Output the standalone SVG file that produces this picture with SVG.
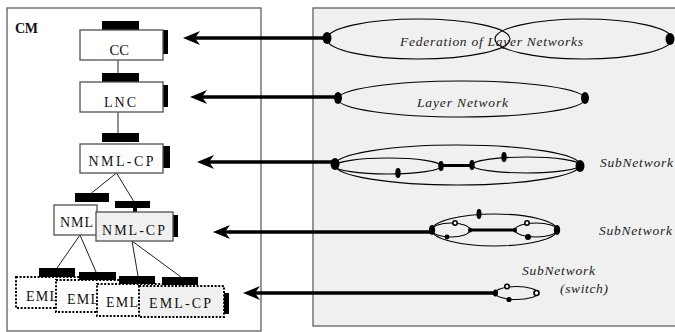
<svg xmlns="http://www.w3.org/2000/svg" width="675" height="332" viewBox="0 0 675 332">
  <style>
    .frame { stroke: #606060; stroke-width: 1.3; }
    .box { fill: #ffffff; stroke: #505050; stroke-width: 1.3; }
    .boxg { fill: #f0f0f0; stroke: #505050; stroke-width: 1.3; }
    .dotbox { fill: #ffffff; stroke: #000000; stroke-width: 2; stroke-dasharray: 2 1.6; }
    .dotboxg { fill: #f0f0f0; stroke: #000000; stroke-width: 2; stroke-dasharray: 2 1.6; }
    .bar { fill: #000000; }
    .tie { stroke: #222222; stroke-width: 1; fill: none; }
    .arrow { stroke: #000000; stroke-width: 3.3; fill: none; marker-end: url(#head); }
    .net { fill: none; stroke: #000000; stroke-width: 1.1; }
    .link { stroke: #000000; stroke-width: 3; }
    .dot { fill: #000000; }
    .ring { fill: #ffffff; stroke: #000000; stroke-width: 1.6; }
    .lbl { font-family: "Liberation Serif", "DejaVu Serif", serif; font-size: 14px; fill: #111111; }
    .it { font-family: "Liberation Serif", "DejaVu Serif", serif; font-size: 13.5px; font-style: italic; fill: #222222; }
  </style>
  <defs>
    <marker id="head" viewBox="0 -7 17 14" refX="10" refY="0" markerWidth="17" markerHeight="14" markerUnits="userSpaceOnUse" orient="auto">
      <path d="M17,0 L0,-7 L5,0 L0,7 Z" fill="#000000"/>
    </marker>
  </defs>

  <rect width="675" height="332" fill="#ffffff"/>

  <!-- management side and network side frames -->
  <rect id="cm-frame" class="frame" x="7" y="8" width="254" height="323" fill="#ffffff"/>
  <rect id="net-frame" class="frame" x="313" y="8" width="370" height="318" fill="#f0f0f0"/>
  <text class="lbl" x="15" y="33" font-weight="bold" font-size="13" textLength="23">CM</text>

  <!-- connectors -->
  <g id="connectors">
    <line class="tie" x1="118" y1="60" x2="118" y2="73"/>
    <line class="tie" x1="118" y1="112" x2="118" y2="133"/>
    <line class="tie" x1="116.5" y1="173" x2="91.5" y2="193"/>
    <line class="tie" x1="116.5" y1="173" x2="133.5" y2="201"/>
    <line class="tie" x1="80" y1="235" x2="57" y2="268"/>
    <line class="tie" x1="80" y1="235" x2="96" y2="272"/>
    <line class="tie" x1="132" y1="241" x2="138" y2="276"/>
    <line class="tie" x1="132" y1="241" x2="181" y2="277"/>

    <line class="arrow" x1="327" y1="38" x2="190" y2="38"/>
    <line class="arrow" x1="338" y1="97" x2="197" y2="97"/>
    <line class="arrow" x1="335" y1="162" x2="204" y2="162"/>
    <line class="arrow" x1="432" y1="232" x2="220" y2="232"/>
    <line class="arrow" x1="495" y1="293" x2="250" y2="293"/>
  </g>

  <!-- control hierarchy -->
  <g id="cc">
    <rect class="bar" x="102" y="21" width="37" height="9"/>
    <rect class="bar" x="163" y="30" width="5" height="24"/>
    <rect class="box" x="80" y="30" width="83" height="30"/>
    <text class="lbl" x="109.5" y="55" textLength="19.5" lengthAdjust="spacingAndGlyphs">CC</text>
  </g>
  <g id="lnc">
    <rect class="bar" x="102" y="73" width="37" height="9"/>
    <rect class="bar" x="163" y="85" width="5" height="22"/>
    <rect class="box" x="80" y="82" width="83" height="30"/>
    <text class="lbl" x="104" y="107" textLength="32">LNC</text>
  </g>
  <g id="nml-cp-top">
    <rect class="bar" x="102" y="133" width="37" height="9"/>
    <rect class="bar" x="163" y="146" width="7" height="22"/>
    <rect class="box" x="80" y="144" width="83" height="29"/>
    <text class="lbl" x="88.5" y="166" textLength="65">NML-CP</text>
  </g>
  <g id="nml">
    <rect class="bar" x="75" y="193" width="34" height="9"/>
    <rect class="box" x="54" y="205" width="43" height="30"/>
    <text class="lbl" x="60" y="227" textLength="33">NML</text>
  </g>
  <g id="nml-cp">
    <rect class="bar" x="115" y="201" width="35" height="7"/>
    <rect class="bar" x="133" y="207" width="4" height="5"/>
    <rect class="bar" x="173" y="215" width="5" height="22"/>
    <rect class="boxg" x="96" y="212" width="77" height="29"/>
    <text class="lbl" x="102" y="235" textLength="63">NML-CP</text>
  </g>
  <g id="eml-1">
    <rect class="bar" x="39" y="268" width="36" height="9"/>
    <rect class="dotbox" x="16" y="277" width="85" height="31"/>
    <text class="lbl" x="26" y="301" textLength="32">EML</text>
  </g>
  <g id="eml-2">
    <rect class="bar" x="79" y="272" width="37" height="8"/>
    <rect class="dotbox" x="56" y="280" width="85" height="32"/>
    <text class="lbl" x="67" y="304" textLength="32">EML</text>
  </g>
  <g id="eml-3">
    <rect class="bar" x="119" y="276" width="36" height="8"/>
    <rect class="dotbox" x="97" y="284" width="85" height="32"/>
    <text class="lbl" x="106" y="307" textLength="32">EML</text>
  </g>
  <g id="eml-cp">
    <rect class="bar" x="162" y="277" width="36" height="8"/>
    <rect class="bar" x="224" y="293" width="5" height="21"/>
    <rect class="dotboxg" x="139" y="286" width="85" height="31"/>
    <text class="lbl" x="149" y="308" textLength="62">EML-CP</text>
  </g>

  <!-- federation of layer networks -->
  <g id="federation">
    <ellipse class="net" cx="418.5" cy="39" rx="91.5" ry="20"/>
    <ellipse class="net" cx="583.5" cy="39" rx="88.5" ry="20"/>
    <ellipse class="dot" cx="327" cy="38" rx="4.5" ry="6"/>
    <ellipse class="dot" cx="670" cy="39" rx="4.5" ry="6"/>
    <text class="it" x="400" y="46" textLength="183">Federation of Layer Networks</text>
  </g>

  <!-- layer network -->
  <g id="layer-network">
    <ellipse class="net" cx="461.5" cy="99" rx="123.5" ry="18"/>
    <ellipse class="dot" cx="338" cy="98" rx="4" ry="6"/>
    <ellipse class="dot" cx="585" cy="98" rx="4" ry="6"/>
    <text class="it" x="417" y="107" textLength="91">Layer Network</text>
  </g>

  <!-- subnetwork made of two subnetworks -->
  <g id="subnetwork-1">
    <ellipse class="net" cx="457.5" cy="165" rx="122.5" ry="20"/>
    <ellipse class="net" cx="388" cy="166" rx="53" ry="8"/>
    <ellipse class="net" cx="526" cy="165" rx="54" ry="8"/>
    <line class="link" x1="441" y1="165.5" x2="472" y2="165.5"/>
    <ellipse class="dot" cx="335" cy="164" rx="4.5" ry="6"/>
    <ellipse class="dot" cx="580" cy="166" rx="4.5" ry="6"/>
    <ellipse class="dot" cx="398" cy="173" rx="2.7" ry="5"/>
    <ellipse class="dot" cx="441" cy="166" rx="2.7" ry="5"/>
    <ellipse class="dot" cx="472" cy="165" rx="2.7" ry="5"/>
    <ellipse class="dot" cx="504" cy="157" rx="2.7" ry="5"/>
    <text class="it" x="600" y="167" textLength="73">SubNetwork</text>
  </g>

  <!-- subnetwork with inner rings -->
  <g id="subnetwork-2">
    <ellipse class="net" cx="494.5" cy="230" rx="62.5" ry="16"/>
    <ellipse class="net" cx="451" cy="230" rx="19" ry="7"/>
    <ellipse class="net" cx="536" cy="230" rx="21" ry="7"/>
    <line class="link" x1="470" y1="230" x2="515" y2="230"/>
    <ellipse class="dot" cx="479" cy="214" rx="2.5" ry="5"/>
    <ellipse class="dot" cx="432" cy="230" rx="3.2" ry="5"/>
    <ellipse class="dot" cx="557" cy="230" rx="3.2" ry="5"/>
    <ellipse class="dot" cx="470" cy="230" rx="2" ry="2.5"/>
    <ellipse class="dot" cx="515" cy="230" rx="2" ry="2.5"/>
    <circle class="ring" cx="455" cy="223" r="2.2"/>
    <circle class="dot" cx="447" cy="237" r="2.4"/>
    <circle class="ring" cx="527" cy="223" r="2.2"/>
    <circle class="dot" cx="528" cy="237" r="3"/>
    <text class="it" x="599" y="235" textLength="73">SubNetwork</text>
  </g>

  <!-- switch subnetwork -->
  <g id="subnetwork-switch">
    <ellipse class="net" cx="516.5" cy="293" rx="21.5" ry="6.5"/>
    <ellipse class="dot" cx="495.5" cy="293" rx="2.5" ry="3.5"/>
    <circle class="ring" cx="507" cy="286.5" r="2.2"/>
    <circle class="dot" cx="509" cy="299.5" r="2.6"/>
    <circle class="ring" cx="536.5" cy="293" r="2.5"/>
    <text class="it" x="522" y="275" textLength="73">SubNetwork</text>
    <text class="it" x="560" y="293" textLength="48">(switch)</text>
  </g>
</svg>
